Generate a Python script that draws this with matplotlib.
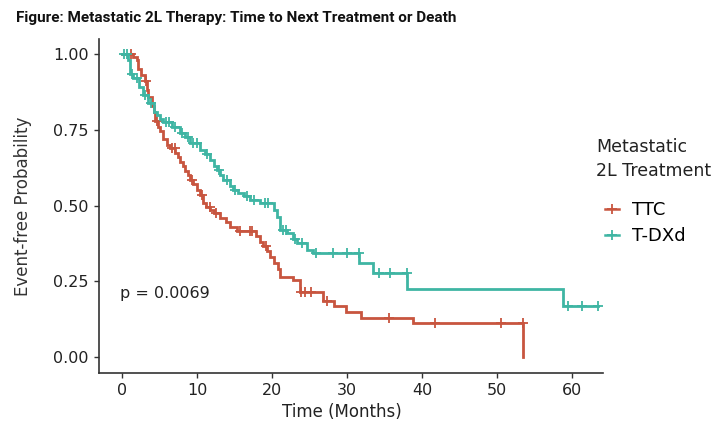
import matplotlib
matplotlib.use("Agg")
import matplotlib.pyplot as plt
import numpy as np
from matplotlib import font_manager
from matplotlib.lines import Line2D

# Kaplan-Meier step points (time in months, survival)
ttc_t = [0, 1.5, 2.0, 2.1, 2.5, 3.0, 3.3, 3.5, 4.0, 4.2, 4.4, 4.8, 5.1, 5.5, 6.0,
         6.4, 7.0, 7.4, 7.7, 8.1, 8.4, 8.8, 9.1, 9.5, 10.0, 10.4, 10.8, 11.2,
         11.7, 12.3, 13.1, 13.8, 14.4, 15.3, 17.9, 18.4, 18.8, 19.3, 19.7, 20.2,
         20.8, 21.1, 22.8, 23.7, 26.8, 28.3, 29.9, 31.8, 38.8, 53.5]
ttc_s = [1.0, 0.99, 0.98, 0.95, 0.93, 0.91, 0.88, 0.86, 0.83, 0.81, 0.78, 0.76,
         0.745, 0.72, 0.70, 0.69, 0.675, 0.66, 0.645, 0.63, 0.615, 0.60, 0.585,
         0.57, 0.55, 0.535, 0.51, 0.495, 0.485, 0.475, 0.46, 0.445, 0.43, 0.415,
         0.40, 0.38, 0.365, 0.35, 0.33, 0.31, 0.29, 0.265, 0.255, 0.215, 0.185,
         0.167, 0.15, 0.128, 0.111, 0.0]
ttc_cens = [1.2, 3.2, 4.6, 6.6, 7.0, 9.3, 10.6, 11.7, 12.5, 15.7, 17.0, 17.3,
            19.2, 23.9, 24.4, 25.2, 27.3, 35.6, 41.7, 50.5, 53.5]

tdxd_t = [0, 0.8, 1.0, 1.1, 1.5, 2.2, 2.8, 3.5, 4.2, 4.6, 5.1, 5.5, 6.6, 7.7,
          8.4, 9.1, 10.4, 11.0, 11.7, 12.2, 12.6, 13.1, 13.5, 14.4, 14.8, 15.5,
          16.2, 17.1, 18.4, 20.2, 20.6, 21.0, 21.1, 22.0, 22.8, 23.3, 24.6, 25.5,
          31.6, 33.5, 38.0, 58.8]
tdxd_s = [1.0, 0.98, 0.95, 0.935, 0.92, 0.89, 0.865, 0.84, 0.81, 0.80, 0.785,
          0.775, 0.76, 0.74, 0.725, 0.705, 0.685, 0.67, 0.65, 0.63, 0.617, 0.60,
          0.585, 0.565, 0.55, 0.54, 0.53, 0.518, 0.507, 0.485, 0.463, 0.44, 0.42,
          0.408, 0.39, 0.375, 0.353, 0.342, 0.309, 0.278, 0.223, 0.168]
tdxd_cens = [0.3, 0.6, 1.3, 2.0, 3.0, 3.8, 5.8, 6.2, 7.0, 8.0, 8.8, 9.5, 10.0,
             11.3, 12.9, 14.0, 15.0, 16.6, 17.6, 19.0, 19.5, 21.4, 21.8, 23.0,
             24.0, 25.8, 28.1, 30.0, 31.6, 34.3, 35.7, 38.0, 59.4, 61.3, 63.5]

groups = ["TTC", "T-DXd"]
red = "#C8553F"
teal = "#3FB5A3"
title_str = "Figure: Metastatic 2L Therapy: Time to Next Treatment or Death"

fig = plt.figure(figsize=(7.16, 4.22), dpi=100)
ax = fig.add_axes([99 / 716, 1 - 372.7 / 422, 504 / 716, 333.7 / 422])


def km(ax, t, s, cens, color):
    t = list(t)
    s = list(s)
    end = max(t[-1], cens[-1])
    ax.step(t + [end], s + [s[-1]], where="post", color=color, lw=2.0,
            solid_joinstyle="miter")
    # censor marks sit on the curve value just before that time
    idx = np.searchsorted(t, cens, side="left") - 1
    ax.plot(cens, np.array(s)[idx], ls="none", marker="+", ms=7, mew=1.3,
            color=color)


km(ax, ttc_t, ttc_s, ttc_cens, red)
km(ax, tdxd_t, tdxd_s, tdxd_cens, teal)

ax.set_xlim(-3.07, 64.1)
ax.set_ylim(-0.052, 1.05)
ax.set_xticks([0, 10, 20, 30, 40, 50, 60])
ax.set_yticks([0, 0.25, 0.5, 0.75, 1.0])
ax.set_yticklabels(["0.00", "0.25", "0.50", "0.75", "1.00"])
for side in ["top", "right"]:
    ax.spines[side].set_visible(False)
for side in ["left", "bottom"]:
    ax.spines[side].set_color("#333333")
    ax.spines[side].set_linewidth(1.2)
ax.tick_params(length=3.5, width=1, color="#333333", labelsize=11.5,
               labelcolor="#222222", pad=4)

ax.set_xlabel("Time (Months)", fontsize=12, color="#222222")
ax.xaxis.set_label_coords((342 - 99) / 504, -0.092)
ax.set_ylabel("Event-free Probability", fontsize=12, color="#333333")
ax.yaxis.set_label_coords(-(99 - 32) / 504, 0.5)

ax.text(-0.3, 0.211, "p = 0.0069", fontsize=11.5, color="#222222",
        va="center", ha="left")

# legend: title as plain text, entries below it
fig.text(596 / 716, 1 - 159 / 422, "Metastatic\n2L Treatment", fontsize=12.5,
         color="#222222", va="center", ha="left", linespacing=1.4)
handles = [Line2D([], [], color=red, marker="+", ms=7, mew=1.3, lw=1.8),
           Line2D([], [], color=teal, marker="+", ms=7, mew=1.3, lw=1.8)]
fig.legend(handles, groups, loc="upper left",
           bbox_to_anchor=(605 / 716, 1 - 201 / 422), frameon=False,
           fontsize=13, handlelength=0.75, handletextpad=0.75,
           labelspacing=0.45, borderaxespad=0, borderpad=0)

# title: plain bold sans faces (plus condensed widths where installed);
# keep the one whose size, fitted to the ~440 px wide title, is near 11.5 pt
title_w = 440
cands = []
for fam in ["Liberation Sans Narrow", "Noto Sans", "Open Sans", "Roboto",
            "Liberation Sans", "Lato", "Inter", "DejaVu Sans"]:
    for stretch in ["normal", "semi-condensed", "condensed"]:
        cands.append((fam, stretch))
installed = {f.name for f in font_manager.fontManager.ttflist}
fig.canvas.draw()
renderer = fig.canvas.get_renderer()
best, best_size, best_err = ("DejaVu Sans", "normal"), 9.0, 1e9
for fam, stretch in cands:
    if fam not in installed:
        continue
    t = fig.text(0, 0, title_str, fontsize=13, fontweight="bold", family=fam,
                 fontstretch=stretch)
    w = t.get_window_extent(renderer).width
    t.remove()
    size = 13 * title_w / w
    err = abs(size - 11.5)
    if err < best_err - 0.05:
        best, best_size, best_err = (fam, stretch), size, err

fig.text(16 / 716, 1 - 22 / 422, title_str, fontsize=best_size,
         fontweight="bold", fontstretch=best[1], va="baseline", ha="left",
         family=[best[0], "DejaVu Sans"], color="#111111")

fig.savefig("out.png", dpi=100)
